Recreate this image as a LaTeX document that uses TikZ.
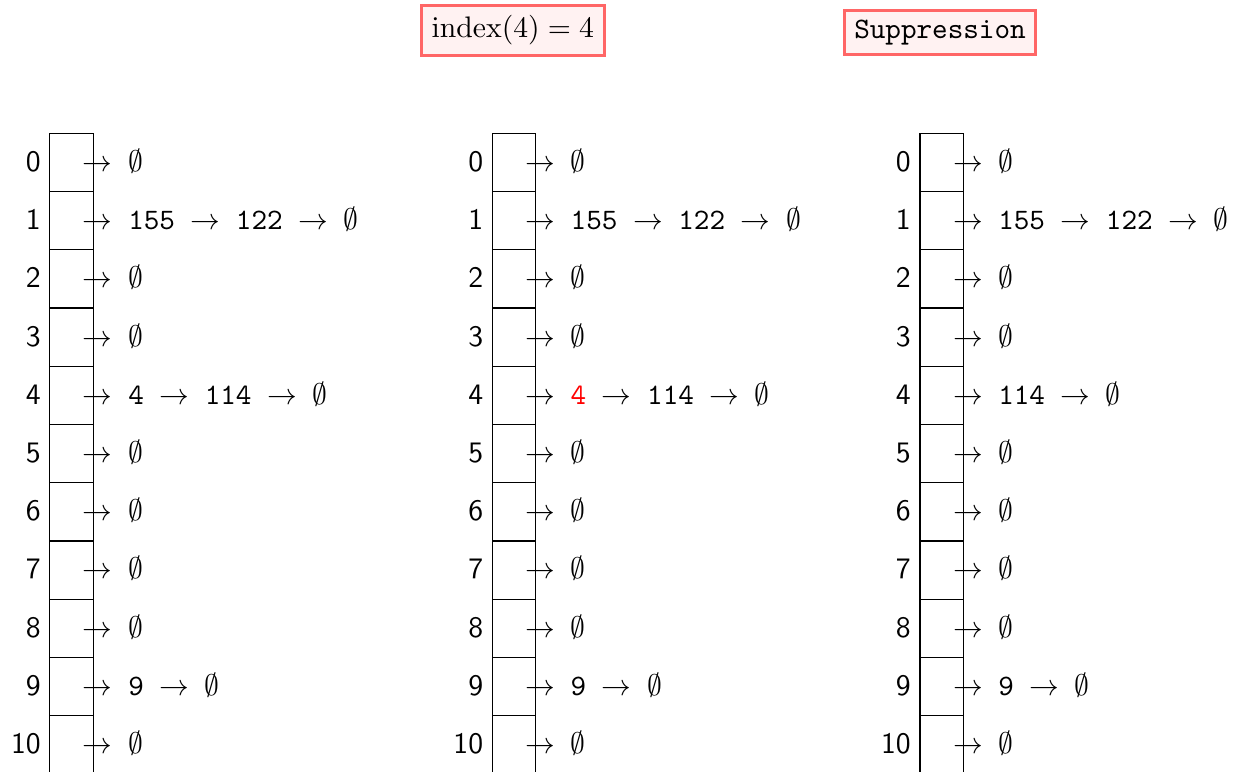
\documentclass[tikz,border=0pt]{standalone}
\usepackage{xcolor}
\begin{document}
\begin{tikzpicture}[x=0.3367pt,y=-0.3367pt,
  cell/.style={draw, line width=0.4pt, minimum width=14.68pt, minimum height=19.6pt, inner sep=0pt, anchor=north west},
  idx/.style={font=\sffamily, anchor=base east, inner sep=0pt},
  chain/.style={font=\ttfamily, anchor=base west, inner sep=0pt},
  tag/.style={draw=red!60, fill=red!5, line width=1pt, inner sep=3.33pt}]
\useasboundingbox (0,0) rectangle (1233,771);
\clip (0,0) rectangle (1233,771);
% tags
\node[tag] (t1) at (513,30.5) {$\mathrm{index}(4) = 4$};
\node[tag] (t2) at (940,32.5) {\texttt{Suppression}};
% cells and labels
\foreach \c/\xl in {1/49.3,2/491.7,3/919.3}{
  \foreach \r in {0,...,10}{
    \node[cell] (c\c-\r) at (\xl,{132.7+58.23*\r}) {};
    \node[idx] (l\c-\r) at ({\xl-8},{132.7+58.23*\r+29.1+9.5}) {\r};
  }
}
% chains column 1
\foreach \r/\txt in {0/{$\to$ $\emptyset$},1/{$\to$ 155 $\to$ 122 $\to$ $\emptyset$},2/{$\to$ $\emptyset$},3/{$\to$ $\emptyset$},4/{$\to$ 4 $\to$ 114 $\to$ $\emptyset$},5/{$\to$ $\emptyset$},6/{$\to$ $\emptyset$},7/{$\to$ $\emptyset$},8/{$\to$ $\emptyset$},9/{$\to$ 9 $\to$ $\emptyset$},10/{$\to$ $\emptyset$}}{
  \node[chain] (a1-\r) at ({49.3+43.6-10.5},{132.7+58.23*\r+29.1+9.5}) {\txt};
}
% chains column 2
\foreach \r/\txt in {0/{$\to$ $\emptyset$},1/{$\to$ 155 $\to$ 122 $\to$ $\emptyset$},2/{$\to$ $\emptyset$},3/{$\to$ $\emptyset$},4/{$\to$ \textcolor{red}{4} $\to$ 114 $\to$ $\emptyset$},5/{$\to$ $\emptyset$},6/{$\to$ $\emptyset$},7/{$\to$ $\emptyset$},8/{$\to$ $\emptyset$},9/{$\to$ 9 $\to$ $\emptyset$},10/{$\to$ $\emptyset$}}{
  \node[chain] (a2-\r) at ({491.7+43.6-10.5},{132.7+58.23*\r+29.1+9.5}) {\txt};
}
% chains column 3
\foreach \r/\txt in {0/{$\to$ $\emptyset$},1/{$\to$ 155 $\to$ 122 $\to$ $\emptyset$},2/{$\to$ $\emptyset$},3/{$\to$ $\emptyset$},4/{$\to$ 114 $\to$ $\emptyset$},5/{$\to$ $\emptyset$},6/{$\to$ $\emptyset$},7/{$\to$ $\emptyset$},8/{$\to$ $\emptyset$},9/{$\to$ 9 $\to$ $\emptyset$},10/{$\to$ $\emptyset$}}{
  \node[chain] (a3-\r) at ({919.3+43.6-10.5},{132.7+58.23*\r+29.1+9.5}) {\txt};
}
\end{tikzpicture}
\end{document}
